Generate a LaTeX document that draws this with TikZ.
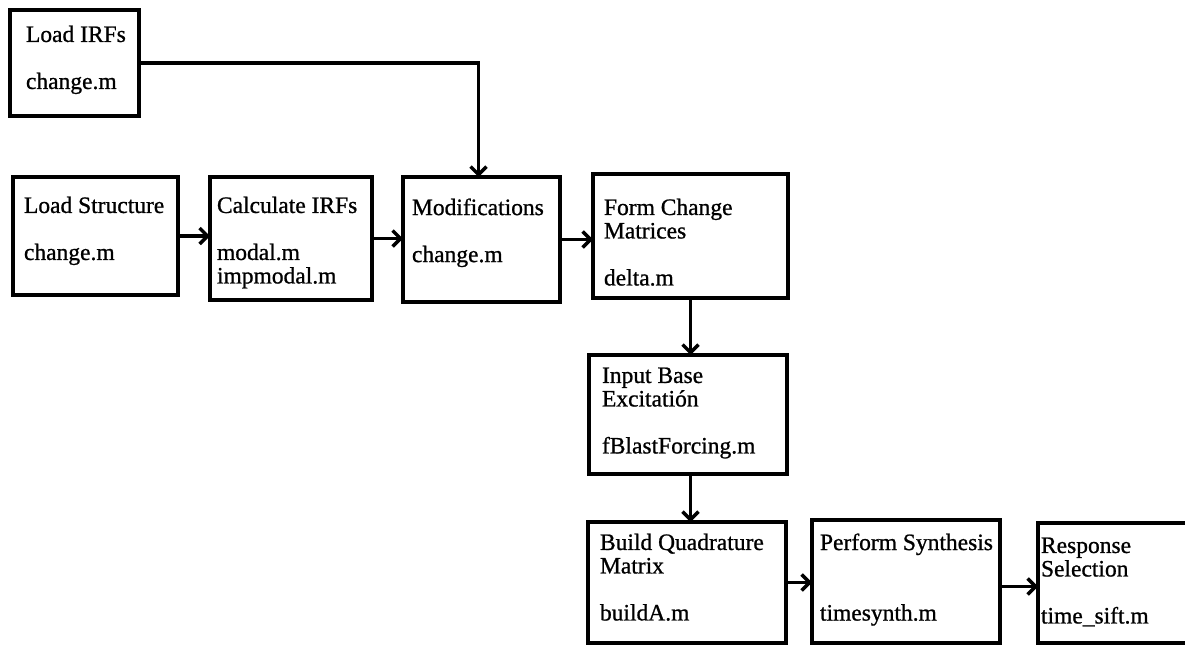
\documentclass[tikz,border=0pt]{standalone}
\usepackage{fontspec}
\setmainfont{Liberation Serif}
\newfontfamily\stagefont{Liberation Serif}[FakeBold=0.9]
\usetikzlibrary{arrows.meta}

% Box contents: #1 width, #2 height, #3 left indent, #4 gap above first line, #5 lines
\newcommand\stagetext[5]{\parbox[t][#2][t]{#1}{\raggedright\leftskip=#3\relax\vspace*{#4}\strut#5}}

\tikzset{
  stage/.style={draw, line width=3.5pt, inner sep=0pt, outer sep=0pt, anchor=north west,
    font=\stagefont\fontsize{23.5}{23.5}\selectfont},
  flow/.style={line width=3.4pt, -{Straight Barb[length=8pt,width=16pt]}}
}

\begin{document}
\begin{tikzpicture}[x=1pt,y=-1pt]
\useasboundingbox (0,0) rectangle (1185,646);
\clip (0,0) rectangle (1185,646);

% processing stages
\node[stage] (irf)    at (10,10)   {\stagetext{129pt}{106pt}{16pt}{15.5pt}{Load IRFs\\[\baselineskip]change.m}};
\node[stage] (struct) at (13,177)  {\stagetext{165pt}{118pt}{11pt}{19.5pt}{Load Structure\\[\baselineskip]change.m}};
\node[stage] (calc)   at (210,177) {\stagetext{162pt}{123pt}{7pt}{19.5pt}{Calculate IRFs\\[\baselineskip]modal.m\\impmodal.m}};
\node[stage] (mods)   at (403,177) {\stagetext{157pt}{125pt}{9pt}{21.5pt}{Modifications\\[\baselineskip]change.m}};
\node[stage] (form)   at (593,174) {\stagetext{195pt}{124pt}{11pt}{24.5pt}{Form Change\\Matrices\\[\baselineskip]delta.m}};
\node[stage] (input)  at (589,355) {\stagetext{198pt}{119pt}{13pt}{11.5pt}{Input Base\\Excitatión\\[\baselineskip]fBlastForcing.m}};
\node[stage] (build)  at (588,522) {\stagetext{198pt}{121pt}{12pt}{11.5pt}{Build Quadrature\\Matrix\\[\baselineskip]buildA.m}};
\node[stage] (synth)  at (812,520) {\stagetext{188pt}{123pt}{8pt}{13.5pt}{Perform Synthesis\\[2\baselineskip]timesynth.m}};
\node[stage] (resp)   at (1038,523){\stagetext{200pt}{120pt}{3pt}{13.5pt}{Response\\Selection\\[\baselineskip]time\_sift.m}};

% connectors
\draw[flow] (irf.east) -| ([xshift=-3pt]mods.north);
\draw[flow] (struct.east) -- (struct.east -| calc.west);
\draw[flow] (calc.east) -- (calc.east -| mods.west);
\draw[flow] (mods.east) -- (mods.east -| form.west);
\draw[flow] (form.south) -- (form.south |- input.north);
\draw[flow] (form.south |- input.south) -- (form.south |- build.north);
\draw[flow] (build.east) -- (build.east -| synth.west);
\draw[flow] ([yshift=-5pt]synth.east) -- ([yshift=-5pt]synth.east -| resp.west);
\end{tikzpicture}
\end{document}
